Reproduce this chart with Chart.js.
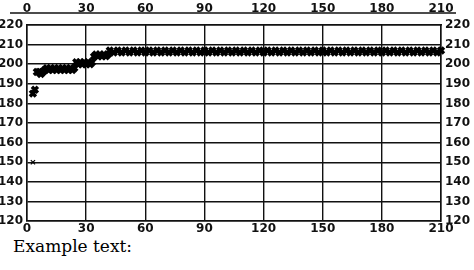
<!DOCTYPE html>
<html>
<head>
<meta charset="utf-8">
<script src="https://cdn.jsdelivr.net/npm/chart.js@4"></script>
<style>
  body { margin: 0; background: #fff; }
  #wrap { position: relative; width: 474px; height: 236px; }
  #caption { font-family: "DejaVu Serif", "Liberation Serif", serif; font-size: 17px; color: #000; margin: 0 0 0 13px; line-height: 20px; }
</style>
</head>
<body>
<div id="wrap"><canvas id="myChart" width="474" height="236"></canvas></div>
<div id="caption">Example text:</div>
<script>
// tick labels
var xTicks = [0, 30, 60, 90, 120, 150, 180, 210];
var yTicks = [120, 130, 140, 150, 160, 170, 180, 190, 200, 210, 220];

var xEarly = [3, 3, 4, 5, 6, 7, 8, 9, 10, 11, 12, 13, 14, 15, 16, 17, 18, 19, 20, 21, 22, 23, 24,
  25, 26, 27, 28, 29, 30, 31, 32, 33, 34, 35, 36, 37, 38, 39, 40, 41];
var yEarly = [150, 185, 187, 196, 196, 195, 196, 197, 198, 197, 198, 197, 198, 197, 198, 197, 198, 197, 198, 197, 198, 197, 198,
  201, 200, 201, 200, 201, 200, 201, 200, 201, 204, 205, 204, 205, 204, 205, 204, 205];

// the long flat run
var xFlat = [42, 44, 46, 48, 50, 52, 54, 56, 58, 60, 62, 64, 66, 68, 70, 72, 74, 76, 78, 80,
  82, 84, 86, 88, 90, 92, 94, 96, 98, 100, 102, 104, 106, 108, 110, 112, 114, 116, 118, 120,
  122, 124, 126, 128, 130, 132, 134, 136, 138, 140, 142, 144, 146, 148, 150, 152, 154, 156, 158, 160,
  162, 164, 166, 168, 170, 172, 174, 176, 178, 180, 182, 184, 186, 188, 190, 192, 194, 196, 198, 200,
  202, 204, 206, 208, 210, 212];
var yFlat = [207, 206, 207, 206, 207, 206, 207, 206, 207, 206, 207, 206, 207, 206, 207, 206, 207, 206, 207, 206,
  207, 206, 207, 206, 207, 206, 207, 206, 207, 206, 207, 206, 207, 206, 207, 206, 207, 206, 207, 206,
  207, 206, 207, 206, 207, 206, 207, 206, 207, 206, 207, 206, 207, 206, 207, 206, 207, 206, 207, 206,
  207, 206, 207, 206, 207, 206, 207, 206, 207, 206, 207, 206, 207, 206, 207, 206, 207, 206, 207, 206,
  207, 206, 207, 206, 207, 206];

var xs = xEarly.concat(xFlat);
var ys = yEarly.concat(yFlat);
var points = xs.map(function (x, i) { return { x: x, y: ys[i] }; });

var tickFont = { family: "DejaVu Sans", size: 12, weight: 'bold' };

function setTicks(list) {
  return function (scale) { scale.ticks = list.map(function (v) { return { value: v }; }); };
}
function fixWidth(w) { return function (scale) { scale.width = w; }; }
function fixHeight(h) { return function (scale) { scale.height = h; }; }

// line running through the top labels
var topRule = {
  id: 'topRule',
  afterDraw: function (chart) {
    var c = chart.ctx;
    c.save();
    c.strokeStyle = '#111';
    c.lineWidth = 1.5;
    c.beginPath();
    c.moveTo(10, 13);
    c.lineTo(456, 13);
    c.stroke();
    c.restore();
  }
};

var ctx = document.getElementById('myChart').getContext('2d');
var chart = new Chart(ctx, {
    type: 'scatter',
    data: {
        datasets: [{
            data: points,
            showLine: false,
            clip: false,
            pointStyle: 'crossRot',
            pointRadius: function (c) { return c.raw && c.raw.y < 160 ? 3 : 4.2; },
            pointBorderWidth: function (c) { return c.raw && c.raw.y < 160 ? 1.2 : 3.5; },
            borderColor: '#000',
            backgroundColor: '#000'
        }]
    },
    options: {
        animation: false,
        responsive: false,
        layout: { padding: 0 },
        plugins: { legend: { display: false }, tooltip: { enabled: false } },
        scales: {
            x: {
                type: 'linear', position: 'bottom', min: 0, max: 210,
                afterBuildTicks: setTicks(xTicks),
                afterFit: fixHeight(15),
                grid: { color: '#111', lineWidth: 1.4, drawTicks: false },
                border: { color: '#111', width: 1.5 },
                ticks: { color: '#111', font: tickFont, padding: 1, maxRotation: 0 }
            },
            x2: {
                type: 'linear', position: 'top', min: 0, max: 210,
                afterBuildTicks: setTicks(xTicks),
                afterFit: fixHeight(25),
                grid: { display: false, drawTicks: false },
                border: { color: '#111', width: 1.5 },
                ticks: { color: '#111', font: tickFont, padding: 9, maxRotation: 0 }
            },
            y: {
                type: 'linear', position: 'left', min: 120, max: 220,
                afterBuildTicks: setTicks(yTicks),
                afterFit: fixWidth(27),
                grid: { color: '#111', lineWidth: 1.4, drawTicks: false },
                border: { color: '#111', width: 1.5 },
                ticks: { color: '#111', font: tickFont, padding: 4 }
            },
            y2: {
                type: 'linear', position: 'right', min: 120, max: 220,
                afterBuildTicks: setTicks(yTicks),
                afterFit: fixWidth(33),
                grid: { display: false, drawTicks: false },
                border: { color: '#111', width: 1.5 },
                ticks: { color: '#111', font: tickFont, padding: 4 }
            }
        }
    },
    plugins: [topRule]
});
</script>
</body>
</html>
